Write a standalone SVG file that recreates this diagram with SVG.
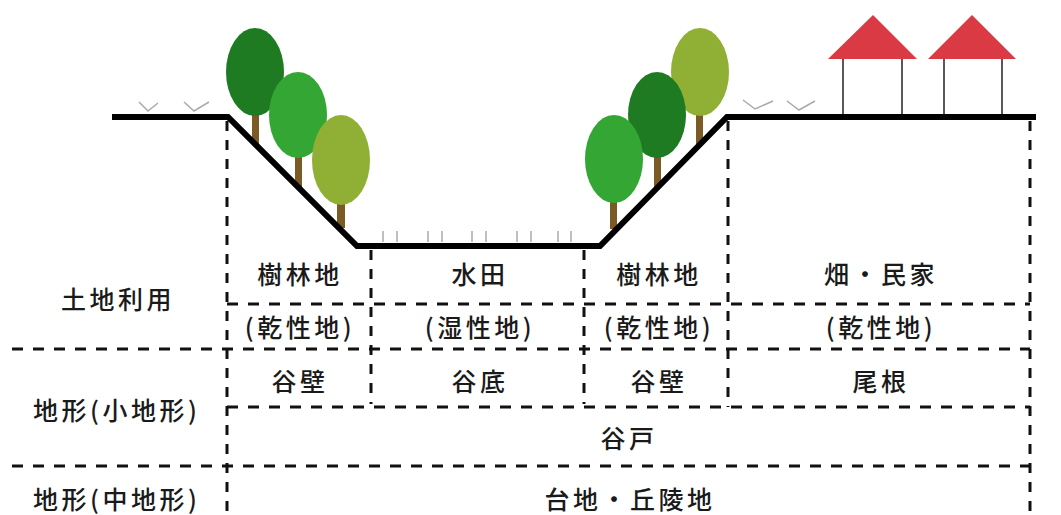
<svg xmlns="http://www.w3.org/2000/svg" width="1061" height="515" viewBox="0 0 1061 515">
  <style>
    .lbl { font-family: "Noto Sans CJK JP", "Noto Sans", sans-serif; font-size: 25px; font-weight: 500; letter-spacing: 3.5px; fill: #1a1a1a; }
    .mid { text-anchor: middle; }
    .dash-h { fill: none; stroke: #111; stroke-width: 3; stroke-dasharray: 11 10; }
    .dash-v { fill: none; stroke: #111; stroke-width: 3; stroke-dasharray: 10 9; }
    .ground { fill: none; stroke: #000; stroke-width: 6; stroke-linejoin: miter; }
    .grass { fill: none; stroke: #aaa; stroke-width: 1.5; }
    .trunk { fill: #7b5a26; }
    .dark { fill: #1f7b22; }
    .green { fill: #33a633; }
    .olive { fill: #8fb034; }
    .roof { fill: #d93a44; }
    .wall { stroke: #222; stroke-width: 1.5; }
  </style>
  <rect width="1061" height="515" fill="#fff"/>

  <!-- grass and paddy marks -->
  <g id="grass">
    <polyline class="grass" points="139,102 148,111 158,103"/>
    <polyline class="grass" points="184,102 194,111 209,102"/>
    <polyline class="grass" points="743,100 755,109 773,101"/>
    <polyline class="grass" points="787,101 799,110 815,101"/>
    <path class="grass" d="M383,231v11M397,231v11M428,231v11M442,231v11M472,231v11M486,231v11M517,231v11M531,231v11M558,231v11M571,231v11"/>
  </g>

  <!-- left slope trees -->
  <g id="trees-left">
    <rect class="trunk" x="252" y="110" width="7" height="34"/>
    <ellipse class="dark" cx="255" cy="72" rx="29" ry="44"/>
    <rect class="trunk" x="295" y="150" width="7" height="37"/>
    <ellipse class="green" cx="298" cy="115" rx="29" ry="43"/>
    <rect class="trunk" x="337" y="195" width="8" height="33"/>
    <ellipse class="olive" cx="341" cy="160" rx="29" ry="45"/>
  </g>

  <!-- right slope trees -->
  <g id="trees-right">
    <rect class="trunk" x="696" y="110" width="7" height="35"/>
    <ellipse class="olive" cx="700" cy="72" rx="29" ry="44"/>
    <rect class="trunk" x="654" y="150" width="7" height="38"/>
    <ellipse class="dark" cx="657" cy="115" rx="29" ry="43"/>
    <rect class="trunk" x="610" y="195" width="7" height="34"/>
    <ellipse class="green" cx="614" cy="159" rx="29" ry="44"/>
  </g>

  <!-- houses -->
  <g id="houses">
    <line class="wall" x1="843" y1="59" x2="843" y2="117"/>
    <line class="wall" x1="902" y1="59" x2="902" y2="117"/>
    <polygon class="roof" points="873,15 917,59 828,59"/>
    <line class="wall" x1="944" y1="59" x2="944" y2="117"/>
    <line class="wall" x1="1002" y1="59" x2="1002" y2="117"/>
    <polygon class="roof" points="972,15 1016,59 928,59"/>
  </g>

  <!-- ground profile -->
  <polyline id="ground" class="ground" points="112,117 228,117 357,246 600,246 727,117 1036,117"/>

  <!-- table grid -->
  <g id="grid">
    <line class="dash-v" x1="227" y1="121" x2="227" y2="515"/>
    <line class="dash-v" x1="371" y1="250" x2="371" y2="404"/>
    <line class="dash-v" x1="584" y1="250" x2="584" y2="404"/>
    <line class="dash-v" x1="728" y1="121" x2="728" y2="407"/>
    <line class="dash-v" x1="1030" y1="121" x2="1030" y2="515"/>
    <line class="dash-h" x1="227" y1="304" x2="1030" y2="304"/>
    <line class="dash-h" x1="12" y1="349" x2="1030" y2="349"/>
    <line class="dash-h" x1="227" y1="407" x2="1030" y2="407"/>
    <line class="dash-h" x1="12" y1="466" x2="1030" y2="466"/>
  </g>

  <!-- row headings -->
  <g id="headings">
    <text class="lbl" x="61" y="309">土地利用</text>
    <text class="lbl" x="33" y="420">地形(小地形)</text>
    <text class="lbl" x="33" y="509">地形(中地形)</text>
  </g>

  <!-- land use -->
  <g id="landuse">
    <text class="lbl mid" x="300" y="284">樹林地</text>
    <text class="lbl mid" x="480" y="284">水田</text>
    <text class="lbl mid" x="659" y="284">樹林地</text>
    <text class="lbl mid" x="881" y="284">畑・民家</text>
    <text class="lbl mid" x="300" y="337">(乾性地)</text>
    <text class="lbl mid" x="480" y="337">(湿性地)</text>
    <text class="lbl mid" x="659" y="337">(乾性地)</text>
    <text class="lbl mid" x="881" y="337">(乾性地)</text>
  </g>

  <!-- small landforms -->
  <g id="landform-small">
    <text class="lbl mid" x="300" y="391">谷壁</text>
    <text class="lbl mid" x="480" y="391">谷底</text>
    <text class="lbl mid" x="659" y="391">谷壁</text>
    <text class="lbl mid" x="881" y="391">尾根</text>
    <text class="lbl mid" x="629" y="448">谷戸</text>
  </g>

  <!-- medium landform -->
  <g id="landform-medium">
    <text class="lbl mid" x="630" y="509">台地・丘陵地</text>
  </g>
</svg>
